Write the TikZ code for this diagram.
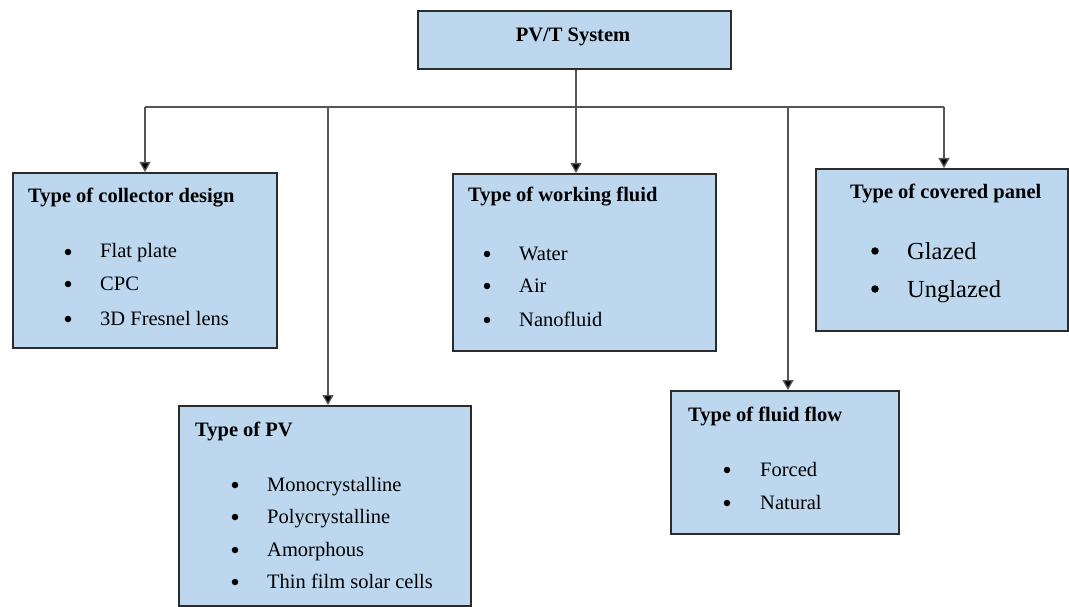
\documentclass[tikz,border=0pt]{standalone}
\usepackage{fontspec}
\setmainfont{Liberation Serif}
\usetikzlibrary{arrows.meta}
\definecolor{boxfill}{HTML}{BDD7EE}
\definecolor{boxline}{HTML}{2B2B2B}
\definecolor{conline}{HTML}{555555}
\tikzset{
  box/.style={draw=boxline, line width=2.2pt, fill=boxfill, anchor=north west, inner sep=0pt},
  head/.style={anchor=base west, inner sep=0pt, font=\fontsize{20.5}{22}\selectfont\bfseries},
  item/.style={anchor=base west, inner sep=0pt, font=\fontsize{20.5}{22}\selectfont},
  bigitem/.style={anchor=base west, inner sep=0pt, font=\fontsize{24.5}{26}\selectfont},
  bul/.style={circle, fill=black, inner sep=0pt, minimum size=6.5pt},
  bigbul/.style={circle, fill=black, inner sep=0pt, minimum size=7.5pt},
  conn/.style={draw=conline, line width=1.3pt},
  arr/.style={conn, -{Triangle[length=10pt, width=11pt, fill=black]}},
}
\begin{document}
\begin{tikzpicture}[x=1pt, y=-1pt]
\useasboundingbox (0,0) rectangle (1069,607);

% boxes
\node[box, minimum width=313pt, minimum height=58pt] (top) at (417,10) {};
\node[box, minimum width=264pt, minimum height=175pt] (cd) at (12,172) {};
\node[box, minimum width=292pt, minimum height=200pt] (pv) at (178,405) {};
\node[box, minimum width=263pt, minimum height=177pt] (wf) at (452,173) {};
\node[box, minimum width=228pt, minimum height=143pt] (ff) at (670,390) {};
\node[box, minimum width=252pt, minimum height=162pt] (cp) at (815,168) {};

% top title
\node[head, anchor=base] (tt) at (573,42) {PV/T System};

% bus
\coordinate (bus) at (576,107);
\coordinate (j1) at (145,107);
\coordinate (j2) at (328,107);
\coordinate (j4) at (788,107);
\coordinate (j5) at (944,107);
\draw[conn] (j1) -- (j5);
\draw[arr] (top.south -| bus) -- (bus |- wf.north);
\draw[arr] (j1) -- (j1 |- cd.north);
\draw[arr] (j2) -- (j2 |- pv.north);
\draw[arr] (j4) -- (j4 |- ff.north);
\draw[arr] (j5) -- (j5 |- cp.north);

% collector design
\node[head] (h1) at (28,203) {Type of collector design};
\node[bul] (b11) at (68,252) {}; \node[item] (t11) at (100,258) {Flat plate};
\node[bul] (b12) at (68,284) {}; \node[item] (t12) at (100,290) {CPC};
\node[bul] (b13) at (68,319) {}; \node[item] (t13) at (100,325) {3D Fresnel lens};

% PV
\node[head] (h2) at (195,436) {Type of PV};
\node[bul] (b21) at (235,485) {}; \node[item] (t21) at (267,491) {Monocrystalline};
\node[bul] (b22) at (235,517) {}; \node[item] (t22) at (267,523) {Polycrystalline};
\node[bul] (b23) at (235,550) {}; \node[item] (t23) at (267,556) {Amorphous};
\node[bul] (b24) at (235,582) {}; \node[item] (t24) at (267,588) {Thin film solar cells};

% working fluid
\node[head] (h3) at (468,202) {Type of working fluid};
\node[bul] (b31) at (487,254) {}; \node[item] (t31) at (519,260) {Water};
\node[bul] (b32) at (487,286) {}; \node[item] (t32) at (519,292) {Air};
\node[bul] (b33) at (487,320) {}; \node[item] (t33) at (519,326) {Nanofluid};

% fluid flow
\node[head] (h4) at (688,421) {Type of fluid flow};
\node[bul] (b41) at (727,470) {}; \node[item] (t41) at (760,476) {Forced};
\node[bul] (b42) at (727,503) {}; \node[item] (t42) at (760,509) {Natural};

% covered panel
\node[head] (h5) at (850,199) {Type of covered panel};
\node[bigbul] (b51) at (875,251) {}; \node[bigitem] (t51) at (907,259) {Glazed};
\node[bigbul] (b52) at (875,289) {}; \node[bigitem] (t52) at (907,297) {Unglazed};
\end{tikzpicture}
\end{document}
